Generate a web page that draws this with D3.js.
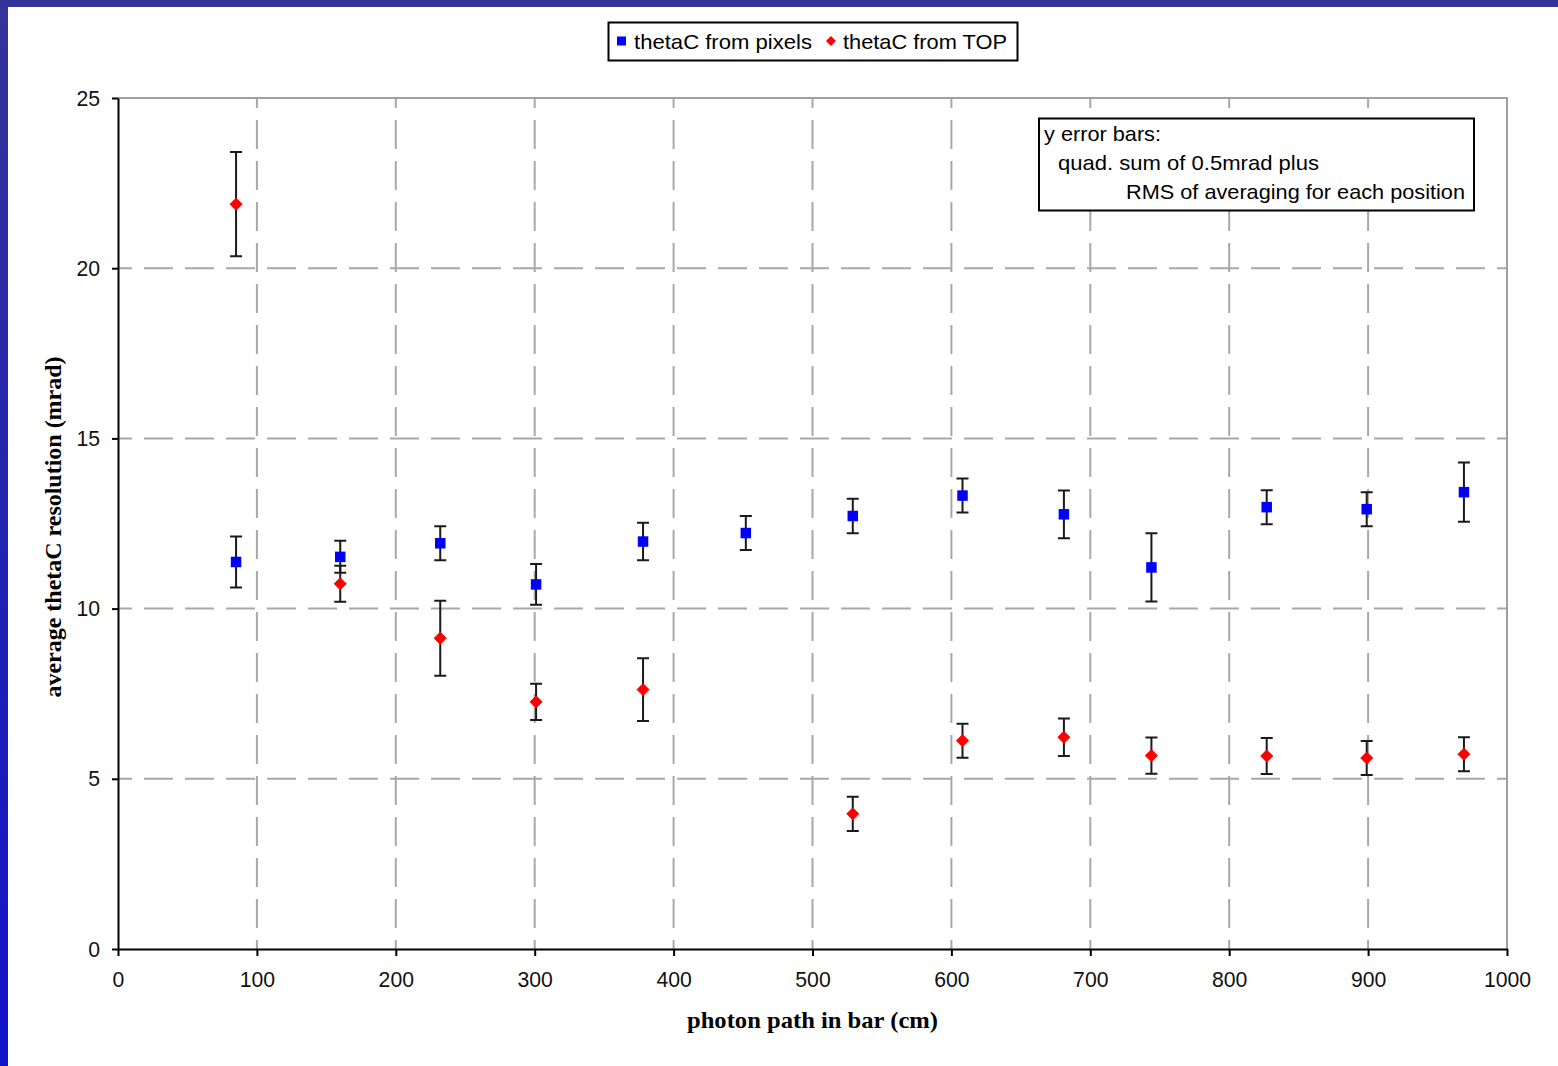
<!DOCTYPE html>
<html>
<head>
<meta charset="utf-8">
<script src="https://cdn.jsdelivr.net/npm/d3@7"></script>
<style>
  html, body { margin: 0; padding: 0; background: #fff; }
</style>
</head>
<body>
<div id="chart"></div>
<script>
// photon path in bar (cm), shared by both series
const pathCm = [85, 160, 232, 301, 378, 452, 529, 608, 681, 744, 827, 899, 969];

// thetaC from pixels
const pixelsRes = [11.37, 11.52, 11.92, 10.71, 11.97, 12.22, 12.72, 13.32, 12.77, 11.21, 12.98, 12.92, 13.42];
const pixelsErr = [0.75, 0.47, 0.50, 0.60, 0.55, 0.50, 0.51, 0.50, 0.70, 1.00, 0.50, 0.50, 0.87];

// thetaC from TOP (no point at 452)
const topRes = [21.88, 10.73, 9.13, 7.26, 7.62, null, 3.97, 6.12, 6.22, 5.68, 5.67, 5.61, 5.72];
const topErr = [1.53, 0.53, 1.10, 0.53, 0.92, null, 0.50, 0.50, 0.55, 0.53, 0.53, 0.50, 0.50];

const xTicks = d3.range(0, 1001, 100);
const yTicks = d3.range(0, 26, 5);

const W = 1558, H = 1066;
const plot = {left: 118, right: 1507, top: 98, bottom: 949};
const sans = "Liberation Sans, Arial, sans-serif";
const serif = "Liberation Serif, Times New Roman, serif";

const svg = d3.select("#chart").append("svg")
    .attr("width", W)
    .attr("height", H)
    .attr("font-family", sans);

// slide frame: dark blue bands on the top and the left
const grad = svg.append("defs").append("linearGradient")
    .attr("id", "leftBand")
    .attr("x1", 0).attr("y1", 0).attr("x2", 0).attr("y2", 1);
grad.append("stop").attr("offset", "0%").attr("stop-color", "#343498");
grad.append("stop").attr("offset", "100%").attr("stop-color", "#1212c8");

svg.append("rect").attr("x", 0).attr("y", 0).attr("width", W).attr("height", 7).attr("fill", "#333399");
svg.append("rect").attr("x", 0).attr("y", 0).attr("width", 8).attr("height", H).attr("fill", "url(#leftBand)");

let x = d3.scaleLinear().domain([0, 1000]).range([plot.left, plot.right]);
let y = d3.scaleLinear().domain([0, 25]).range([plot.bottom, plot.top]);

// dashed grid
const grid = svg.append("g").attr("class", "grid");
grid.selectAll("line.v")
    .data(xTicks.filter(t => t > 0 && t < 1000))
    .enter().append("line")
    .attr("x1", d => x(d)).attr("x2", d => x(d))
    .attr("y1", plot.top).attr("y2", plot.bottom)
    .attr("stroke", "#a8a8a8").attr("stroke-width", 2)
    .attr("stroke-dasharray", "29,12").attr("stroke-dashoffset", -22);
grid.selectAll("line.h")
    .data(yTicks.filter(t => t > 0 && t < 25))
    .enter().append("line")
    .attr("x1", plot.left).attr("x2", plot.right)
    .attr("y1", d => y(d)).attr("y2", d => y(d))
    .attr("stroke", "#a8a8a8").attr("stroke-width", 2)
    .attr("stroke-dasharray", "29,12").attr("stroke-dashoffset", -26);

// top and right frame of the plot area
svg.append("path")
    .attr("d", `M${plot.left},${plot.top}H${plot.right}V${plot.bottom}`)
    .attr("fill", "none").attr("stroke", "#a0a0a0").attr("stroke-width", 2);

// axes
const fontSize = 21;
let xAxis = svg.append("g")
    .attr("transform", `translate(0,${plot.bottom})`)
    .call(d3.axisBottom(x).tickValues(xTicks).tickFormat(d3.format("d"))
        .tickSize(7).tickPadding(15).tickSizeOuter(0));
let yAxis = svg.append("g")
    .attr("transform", `translate(${plot.left},0)`)
    .call(d3.axisLeft(y).tickValues(yTicks).tickFormat(d3.format("d"))
        .tickSize(6).tickPadding(12).tickSizeOuter(0));

[xAxis, yAxis].forEach(a => {
    a.select(".domain").attr("stroke", "#000").attr("stroke-width", 2);
    a.selectAll(".tick line").attr("stroke", "#000").attr("stroke-width", 2);
    a.selectAll(".tick text")
        .attr("font-size", 22)
        .attr("font-family", sans)
        .attr("fill", "#111");
});
xAxis.selectAll(".tick text")
    .attr("textLength", d => String(d).length * 11.8)
    .attr("lengthAdjust", "spacingAndGlyphs");
yAxis.selectAll(".tick text")
    .attr("textLength", d => String(d).length * 11.8)
    .attr("lengthAdjust", "spacingAndGlyphs");

// error bars
const capHalf = 6;
let errorBars = (vals, errs) => {
    const rows = pathCm.map((p, i) => ({p, v: vals[i], e: errs[i]})).filter(d => d.v != null);
    const g = svg.append("g")
        .attr("stroke", "#1a1a1a").attr("stroke-width", 2).attr("fill", "none");
    g.selectAll("path")
        .data(rows)
        .enter().append("path")
        .attr("d", d => {
            const cx = x(d.p), y0 = y(d.v - d.e), y1 = y(d.v + d.e);
            return `M${cx},${y0}V${y1}M${cx - capHalf},${y1}H${cx + capHalf}M${cx - capHalf},${y0}H${cx + capHalf}`;
        });
    return rows;
};

const pixelRows = errorBars(pixelsRes, pixelsErr);
const topRows = errorBars(topRes, topErr);

// markers
const sq = 10.5;
svg.append("g").selectAll("rect")
    .data(pixelRows)
    .enter().append("rect")
    .attr("x", d => x(d.p) - sq / 2)
    .attr("y", d => y(d.v) - sq / 2)
    .attr("width", sq).attr("height", sq)
    .attr("fill", "#0000ff");

const dm = 6;
let diamond = (cx, cy, r) => `M${cx},${cy - r}L${cx + r},${cy}L${cx},${cy + r}L${cx - r},${cy}Z`;
svg.append("g").selectAll("path")
    .data(topRows)
    .enter().append("path")
    .attr("d", d => diamond(x(d.p), y(d.v), dm))
    .attr("fill", "#ff0000")
    .attr("stroke", "#ff0000").attr("stroke-width", 1).attr("stroke-linejoin", "round");

// axis titles
svg.append("text")
    .attr("x", (plot.left + plot.right) / 2)
    .attr("y", 1028)
    .attr("text-anchor", "middle")
    .attr("font-family", serif)
    .attr("font-weight", "bold")
    .attr("font-size", 24)
    .attr("textLength", 251)
    .attr("lengthAdjust", "spacingAndGlyphs")
    .text("photon path in bar (cm)");

svg.append("text")
    .attr("transform", "translate(61,527) rotate(-90)")
    .attr("text-anchor", "middle")
    .attr("font-family", serif)
    .attr("font-weight", "bold")
    .attr("font-size", 24)
    .attr("textLength", 341)
    .attr("lengthAdjust", "spacingAndGlyphs")
    .text("average thetaC resolution (mrad)");

// legend
const legend = svg.append("g");
legend.append("rect")
    .attr("x", 608.5).attr("y", 22.5).attr("width", 409).attr("height", 38)
    .attr("fill", "#fff").attr("stroke", "#000").attr("stroke-width", 2);
legend.append("rect")
    .attr("x", 617).attr("y", 36.5).attr("width", 9).attr("height", 9)
    .attr("fill", "#0000ff");
legend.append("text")
    .attr("x", 634).attr("y", 48.5)
    .attr("font-size", fontSize)
    .attr("textLength", 178).attr("lengthAdjust", "spacingAndGlyphs")
    .text("thetaC from pixels");
legend.append("path")
    .attr("d", diamond(831, 41, 5))
    .attr("fill", "#ff0000");
legend.append("text")
    .attr("x", 843).attr("y", 48.5)
    .attr("font-size", fontSize)
    .attr("textLength", 164).attr("lengthAdjust", "spacingAndGlyphs")
    .text("thetaC from TOP");

// note box
const note = svg.append("g");
note.append("rect")
    .attr("x", 1039).attr("y", 118.5).attr("width", 435).attr("height", 92)
    .attr("fill", "#fff").attr("stroke", "#000").attr("stroke-width", 2);
const noteLines = [
    {t: "y error bars:", x: 1044, y: 141, w: 117},
    {t: "quad. sum of 0.5mrad plus", x: 1058, y: 170, w: 261},
    {t: "RMS of averaging for each position", x: 1126, y: 199, w: 339}
];
note.selectAll("text")
    .data(noteLines)
    .enter().append("text")
    .attr("x", d => d.x).attr("y", d => d.y)
    .attr("font-size", fontSize)
    .attr("textLength", d => d.w).attr("lengthAdjust", "spacingAndGlyphs")
    .text(d => d.t);
</script>
</body>
</html>
